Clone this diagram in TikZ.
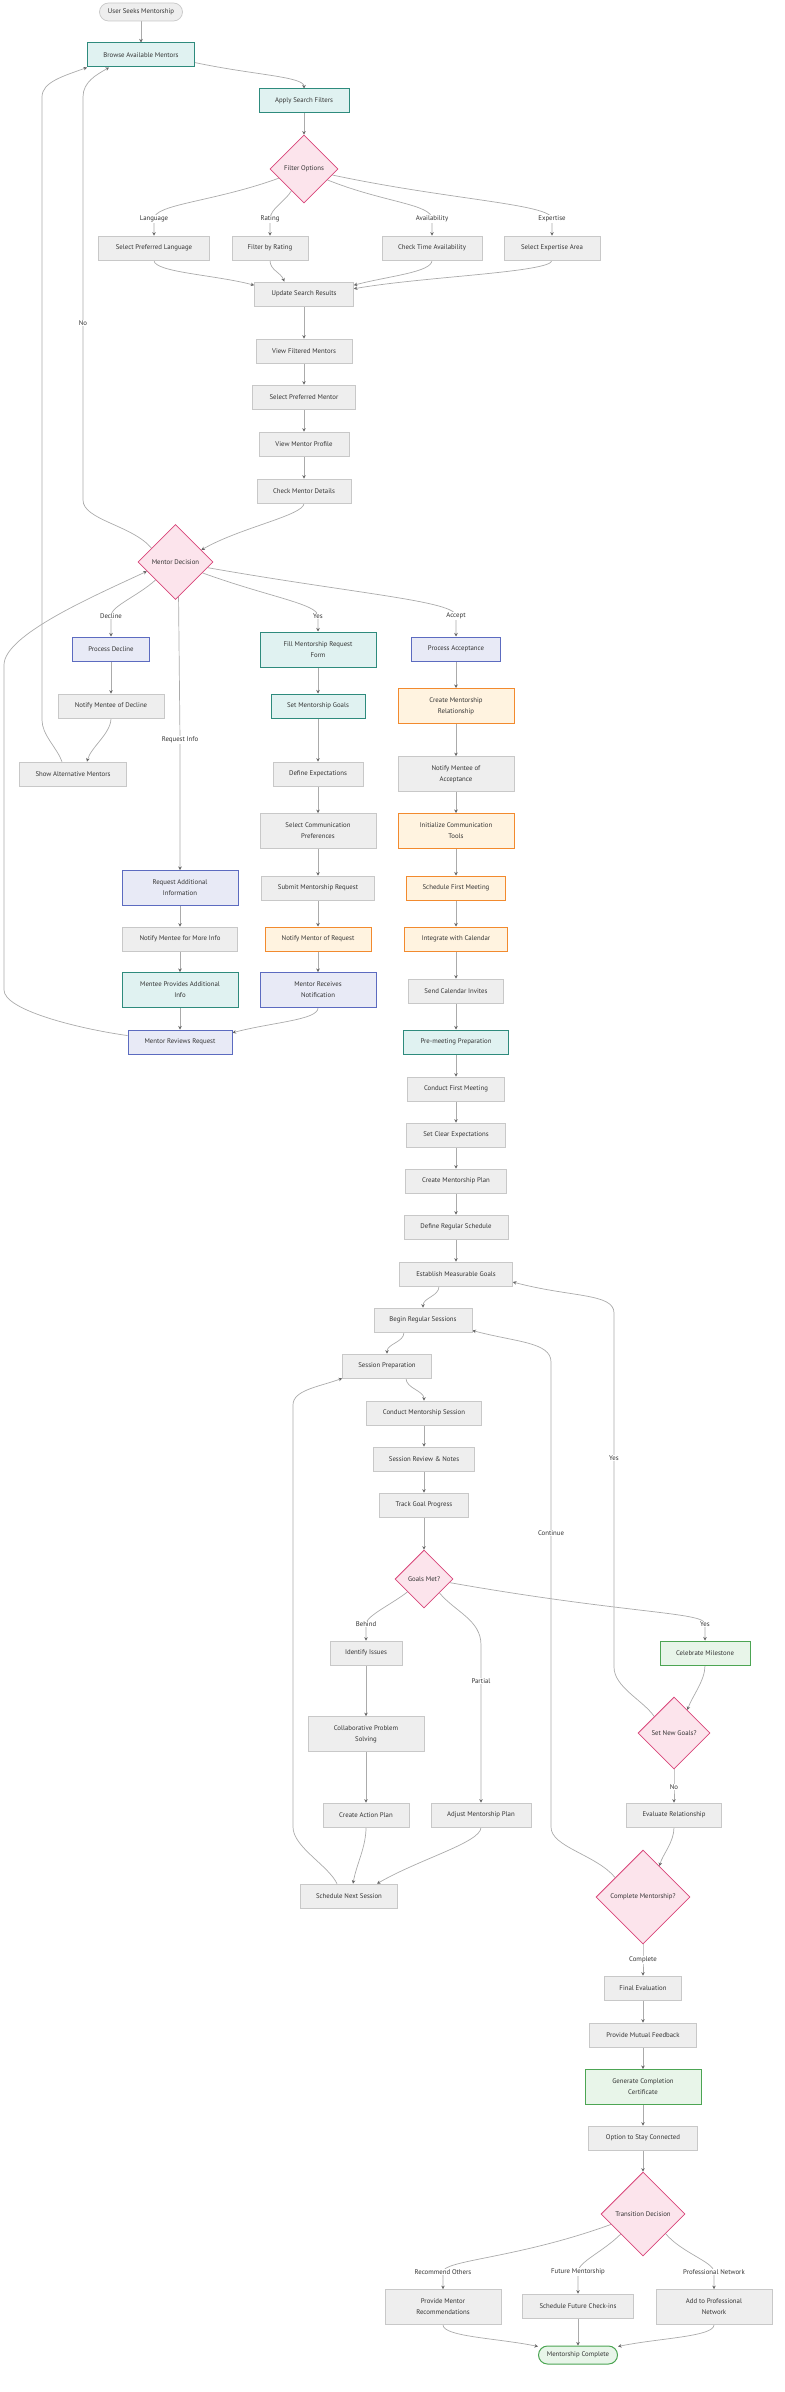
\documentclass[tikz,border=0pt]{standalone}
\usepackage{fontspec}
\setmainfont{PT Sans}
\usetikzlibrary{shapes.geometric,arrows.meta,backgrounds}
\definecolor{boxgray}{HTML}{EEEEEE}
\definecolor{linegray}{HTML}{C8C8C8}
\definecolor{edgegray}{HTML}{ABABAB}
\definecolor{tipgray}{HTML}{666666}
\definecolor{textgray}{HTML}{333333}
\definecolor{mintfill}{HTML}{E0F2F1}
\definecolor{mintline}{HTML}{2E8B7D}
\definecolor{lavfill}{HTML}{E8EAF6}
\definecolor{lavline}{HTML}{5C6BC0}
\definecolor{peachfill}{HTML}{FFF3E0}
\definecolor{peachline}{HTML}{F28A2E}
\definecolor{leaffill}{HTML}{E8F5E9}
\definecolor{leafline}{HTML}{4CA553}
\definecolor{rosefill}{HTML}{FCE4EC}
\definecolor{roseline}{HTML}{D9467A}
\tikzset{
    box/.style={rectangle, draw=linegray, fill=boxgray, line width=0.7pt, minimum height=24, inner sep=2pt, text=textgray},
    tall/.style={minimum height=35, minimum width=116, align=center},
    mint/.style={draw=mintline, fill=mintfill, line width=1pt},
    lav/.style={draw=lavline, fill=lavfill, line width=1pt},
    peach/.style={draw=peachline, fill=peachfill, line width=1pt},
    leaf/.style={draw=leafline, fill=leaffill, line width=1pt},
    choice/.style={diamond, aspect=1, draw=roseline, fill=rosefill, line width=0.8pt, inner sep=0pt, text=textgray},
    pill/.style={rectangle, rounded corners=9pt, minimum height=18, inner sep=2pt, draw=linegray, fill=boxgray, line width=0.7pt, text=textgray},
    lbl/.style={fill=white, inner sep=1pt, text=textgray},
    flow/.style={draw=edgegray, line width=0.7pt, -{Stealth[length=3.5pt,width=3.5pt,color=tipgray]}},
}

\begin{document}
\begin{tikzpicture}[x=1pt, y=1pt, font=\fontsize{6.8}{11}\selectfont]
        \useasboundingbox (0,0) rectangle (784,-2392);
        % Search
        \node[pill, minimum width=83] (start) at (141,-12) {User Seeks Mentorship};
        \node[box, mint, minimum width=107] (browse) at (141,-55) {Browse Available Mentors};
        \node[box, mint, minimum width=90] (apply) at (304,-101) {Apply Search Filters};
        \node[choice, minimum size=68] (filter) at (304,-169) {Filter Options};
        \node[box, minimum width=111] (lang) at (154,-248) {Select Preferred Language};
        \node[box, minimum width=76] (rating) at (270,-248) {Filter by Rating};
        \node[box, minimum width=100] (avail) at (432,-248) {Check Time Availability};
        \node[box, minimum width=96] (expert) at (552,-248) {Select Expertise Area};
        \node[box, minimum width=99] (update) at (304,-294) {Update Search Results};
        \node[box, minimum width=96] (viewf) at (304,-351) {View Filtered Mentors};
        \node[box, minimum width=103] (selm) at (304,-397) {Select Preferred Mentor};
        \node[box, minimum width=90] (profile) at (304,-444) {View Mentor Profile};
        \node[box, minimum width=94] (details) at (304,-491) {Check Mentor Details};
        \node[choice, minimum size=75] (decision) at (175.5,-562) {Mentor Decision};
        % Decline and request info
        \node[box, lav, minimum width=77] (procDecl) at (111,-649) {Process Decline};
        \node[box, minimum width=106] (notifyDecl) at (111,-706) {Notify Mentee of Decline};
        \node[box, minimum width=107] (showAlt) at (73,-774) {Show Alternative Mentors};
        \node[box, lav, tall] (reqAdd) at (180,-888) {Request Additional\\Information};
        \node[box, minimum width=115] (notifyMore) at (180,-939) {Notify Mentee for More Info};
        \node[box, mint, tall] (menteeProv) at (180,-990) {Mentee Provides Additional\\Info};
        \node[box, lav, minimum width=104] (mentorRev) at (180,-1042) {Mentor Reviews Request};
        % Request form
        \node[box, mint, tall] (fillForm) at (318,-649.5) {Fill Mentorship Request\\Form};
        \node[box, mint, minimum width=94] (setGoals) at (318,-706) {Set Mentorship Goals};
        \node[box, minimum width=90] (defExp) at (318,-774) {Define Expectations};
        \node[box, tall] (selComm) at (318,-831) {Select Communication\\Preferences};
        \node[box, minimum width=113] (submit) at (318,-888) {Submit Mentorship Request};
        \node[box, peach, minimum width=106] (notifyMentor) at (318,-939) {Notify Mentor of Request};
        \node[box, lav, tall] (mentorRec) at (318,-990) {Mentor Receives\\Notification};
        % Acceptance
        \node[box, lav, minimum width=89] (procAcc) at (456,-649) {Process Acceptance};
        \node[box, peach, tall] (createRel) at (456,-706) {Create Mentorship\\Relationship};
        \node[box, tall] (notifyAcc) at (456,-774) {Notify Mentee of\\Acceptance};
        \node[box, peach, tall] (initComm) at (456,-831) {Initialize Communication\\Tools};
        \node[box, peach, minimum width=99] (schedFirst) at (456,-888) {Schedule First Meeting};
        \node[box, peach, minimum width=103] (integrate) at (456,-939) {Integrate with Calendar};
        \node[box, minimum width=95] (sendInv) at (456,-991) {Send Calendar Invites};
        \node[box, mint, minimum width=105] (premeet) at (456,-1042) {Pre-meeting Preparation};
        \node[box, minimum width=97] (conductFirst) at (456,-1089) {Conduct First Meeting};
        \node[box, minimum width=99] (setClear) at (456,-1135) {Set Clear Expectations};
        \node[box, minimum width=101] (createPlan) at (456,-1181) {Create Mentorship Plan};
        \node[box, minimum width=104] (defSched) at (456,-1227) {Define Regular Schedule};
        \node[box, minimum width=113] (establish) at (456,-1274) {Establish Measurable Goals};
        % Sessions
        \node[box, minimum width=98] (beginReg) at (423,-1320) {Begin Regular Sessions};
        \node[box, minimum width=89] (sessPrep) at (387,-1366) {Session Preparation};
        \node[box, minimum width=115] (conductSess) at (424,-1413) {Conduct Mentorship Session};
        \node[box, minimum width=101] (review) at (424,-1459) {Session Review \& Notes};
        \node[box, minimum width=89] (track) at (424,-1505) {Track Goal Progress};
        \node[choice, minimum size=58] (goalsMet) at (424,-1579) {Goals Met?};
        \node[box, minimum width=72] (identify) at (366,-1653) {Identify Issues};
        \node[box, tall] (collab) at (366,-1734) {Collaborative Problem\\Solving};
        \node[box, minimum width=86] (createAct) at (366,-1815) {Create Action Plan};
        \node[box, minimum width=100] (adjust) at (481,-1815) {Adjust Mentorship Plan};
        \node[box, minimum width=97] (schedNext) at (349,-1896) {Schedule Next Session};
        \node[box, leaf, minimum width=90] (celebrate) at (705,-1653) {Celebrate Milestone};
        \node[choice, minimum size=72] (setNew) at (674,-1733) {Set New Goals?};
        \node[box, minimum width=95] (evaluate) at (674,-1815) {Evaluate Relationship};
        \node[choice, minimum size=94] (complete) at (643,-1897) {Complete Mentorship?};
        % Completion
        \node[box, minimum width=77] (final) at (643,-1988) {Final Evaluation};
        \node[box, minimum width=107] (feedback) at (643,-2035) {Provide Mutual Feedback};
        \node[box, leaf, tall] (certificate) at (643,-2087) {Generate Completion\\Certificate};
        \node[box, minimum width=109] (stayConn) at (643,-2138) {Option to Stay Connected};
        \node[choice, minimum size=84] (transition) at (643,-2214) {Transition Decision};
        \node[box, tall] (recMentor) at (443,-2307) {Provide Mentor\\Recommendations};
        \node[box, minimum width=111] (future) at (578,-2306) {Schedule Future Check-ins};
        \node[box, tall] (profNet) at (714,-2307) {Add to Professional\\Network};
        \node[pill, leaf, minimum width=79] (done) at (578,-2355) {Mentorship Complete};
        % Add labels
        \node[lbl] (lbLang) at (154,-219) {Language};
        \node[lbl] (lbRating) at (270,-219) {Rating};
        \node[lbl] (lbAvail) at (432,-219) {Availability};
        \node[lbl] (lbExpert) at (552,-219) {Expertise};
        \node[lbl] (lbNo) at (83,-323) {No};
        \node[lbl] (lbDecline) at (111,-616) {Decline};
        \node[lbl] (lbYes) at (318,-616) {Yes};
        \node[lbl] (lbAccept) at (456,-616) {Accept};
        \node[lbl] (lbReqInfo) at (180,-740) {Request Info};
        \node[lbl] (lbYesGoals) at (614,-1458) {Yes};
        \node[lbl] (lbContinue) at (551,-1533) {Continue};
        \node[lbl] (lbBehind) at (366,-1624) {Behind};
        \node[lbl] (lbPartial) at (481,-1681) {Partial};
        \node[lbl] (lbYesMet) at (705,-1624) {Yes};
        \node[lbl] (lbNoGoals) at (674,-1787) {No};
        \node[lbl] (lbComplete) at (643,-1960) {Complete};
        \node[lbl] (lbRecommend) at (443,-2272) {Recommend Others};
        \node[lbl] (lbFuture) at (578,-2272) {Future Mentorship};
        \node[lbl] (lbProf) at (714,-2272) {Professional Network};
        % Bends of the long returns
        \coordinate (noLow) at (83,-500);
        \coordinate (noHigh) at (83,-97);
        \coordinate (altLow) at (42,-720);
        \coordinate (altHigh) at (42,-97);
        \coordinate (revLow) at (4,-990);
        \coordinate (revHigh) at (4,-665);
        \coordinate (partBend) at (481,-1645);
        \coordinate (spLow) at (293,-1827);
        \coordinate (spHigh) at (293,-1405);
        \coordinate (snLow) at (614,-1667);
        \coordinate (snHigh) at (614,-1313);
        \coordinate (contLow) at (551,-1827);
        \coordinate (contHigh) at (551,-1362);
        % Add edges
        \begin{scope}[on background layer]
            \draw[flow] (start.south) -- (browse.north);
            \draw[flow] (browse.-8) .. controls +(-12:60) and +(90:12) .. (apply.north);
            \draw[flow] (apply.south) -- (filter.north);
            \draw[flow] (filter.200) .. controls +(200:70) and +(90:15) .. (lbLang.center) -- (lang.north);
            \draw[flow] (filter.240) .. controls +(240:12) and +(90:10) .. (lbRating.center) -- (rating.north);
            \draw[flow] (filter.-25) .. controls +(-22:60) and +(90:15) .. (lbAvail.center) -- (avail.north);
            \draw[flow] (filter.-12) .. controls +(-12:120) and +(90:15) .. (lbExpert.center) -- (expert.north);
            \draw[flow] (lang.south) .. controls +(-90:12) and +(165:40) .. (update.170);
            \draw[flow] (rating.south) .. controls +(-90:10) and +(110:10) .. (update.148);
            \draw[flow] (avail.south) .. controls +(-90:12) and +(15:35) .. (update.10);
            \draw[flow] (expert.south) .. controls +(-90:12) and +(10:70) .. (update.6);
            \draw[flow] (update.south) -- (viewf.north);
            \draw[flow] (viewf.south) -- (selm.north);
            \draw[flow] (selm.south) -- (profile.north);
            \draw[flow] (profile.south) -- (details.north);
            \draw[flow] (details.south) .. controls +(-90:12) and +(30:45) .. (decision.25);
            \draw[flow] (decision.150) .. controls +(130:30) and +(-90:20) .. (noLow) -- (lbNo.center) -- (noHigh) .. controls +(90:15) and +(-150:15) .. ([xshift=-32pt]browse.south);
            \draw[flow] (decision.222) .. controls +(222:25) and +(90:10) .. (lbDecline.center) -- (procDecl.north);
            \draw[flow] (decision.-22) .. controls +(-20:70) and +(90:12) .. (lbYes.center) -- (fillForm.north);
            \draw[flow] (decision.-10) .. controls +(-10:150) and +(90:15) .. (lbAccept.center) -- (procAcc.north);
            \draw[flow] (decision.-85) -- (lbReqInfo.center) -- (reqAdd.north);
            \draw[flow] (procDecl.south) -- (notifyDecl.north);
            \draw[flow] (notifyDecl.south) .. controls +(-90:15) and +(75:15) .. ([xshift=14pt]showAlt.north);
            \draw[flow] ([xshift=-11pt]showAlt.north) .. controls +(110:15) and +(-90:15) .. (altLow) -- (altHigh) .. controls +(90:15) and +(-160:25) .. (browse.south west);
            \draw[flow] (reqAdd.south) -- (notifyMore.north);
            \draw[flow] (notifyMore.south) -- (menteeProv.north);
            \draw[flow] (menteeProv.south) -- (mentorRev.north);
            \draw[flow] (mentorRev.173) .. controls +(172:50) and +(-90:20) .. (revLow) -- (revHigh) .. controls +(90:30) and +(-155:60) .. (decision.198);
            \draw[flow] (fillForm.south) -- (setGoals.north);
            \draw[flow] (setGoals.south) -- (defExp.north);
            \draw[flow] (defExp.south) -- (selComm.north);
            \draw[flow] (selComm.south) -- (submit.north);
            \draw[flow] (submit.south) -- (notifyMentor.north);
            \draw[flow] (notifyMentor.south) -- (mentorRec.north);
            \draw[flow] (mentorRec.south) .. controls +(-90:12) and +(15:40) .. (mentorRev.10);
            \draw[flow] (procAcc.south) -- (createRel.north);
            \draw[flow] (createRel.south) -- (notifyAcc.north);
            \draw[flow] (notifyAcc.south) -- (initComm.north);
            \draw[flow] (initComm.south) -- (schedFirst.north);
            \draw[flow] (schedFirst.south) -- (integrate.north);
            \draw[flow] (integrate.south) -- (sendInv.north);
            \draw[flow] (sendInv.south) -- (premeet.north);
            \draw[flow] (premeet.south) -- (conductFirst.north);
            \draw[flow] (conductFirst.south) -- (setClear.north);
            \draw[flow] (setClear.south) -- (createPlan.north);
            \draw[flow] (createPlan.south) -- (defSched.north);
            \draw[flow] (defSched.south) -- (establish.north);
            \draw[flow] ([xshift=-17pt]establish.south) .. controls +(-90:10) and +(90:10) .. (beginReg.north);
            \draw[flow] ([xshift=-19pt]beginReg.south) .. controls +(-90:10) and +(90:10) .. (sessPrep.north);
            \draw[flow] ([xshift=19pt]sessPrep.south) .. controls +(-90:10) and +(90:10) .. (conductSess.north);
            \draw[flow] (conductSess.south) -- (review.north);
            \draw[flow] (review.south) -- (track.north);
            \draw[flow] (track.south) -- (goalsMet.north);
            \draw[flow] (goalsMet.218) .. controls +(218:20) and +(90:8) .. (lbBehind.center) -- (identify.north);
            \draw[flow] (goalsMet.-42) .. controls +(-50:25) and +(90:25) .. (partBend) -- (lbPartial.center) -- (adjust.north);
            \draw[flow] (goalsMet.-8) .. controls +(-10:180) and +(90:12) .. (lbYesMet.center) -- (celebrate.north);
            \draw[flow] (identify.south) -- (collab.north);
            \draw[flow] (collab.south) -- (createAct.north);
            \draw[flow] (createAct.south) .. controls +(-90:20) and +(80:20) .. ([xshift=4pt]schedNext.north);
            \draw[flow] (adjust.south) .. controls +(-90:15) and +(30:50) .. ([xshift=28pt]schedNext.north);
            \draw[flow] ([xshift=-12pt]schedNext.north) .. controls +(115:20) and +(-90:20) .. (spLow) -- (spHigh) .. controls +(90:15) and +(-160:25) .. (sessPrep.south west);
            \draw[flow] (celebrate.south) .. controls +(-90:15) and +(70:15) .. (setNew.60);
            \draw[flow] (setNew.140) .. controls +(125:20) and +(-90:20) .. (snLow) -- (lbYesGoals.center) -- (snHigh) .. controls +(90:20) and +(-15:60) .. (establish.-8);
            \draw[flow] (setNew.south) -- (lbNoGoals.center) -- (evaluate.north);
            \draw[flow] (evaluate.south) .. controls +(-90:15) and +(75:12) .. (complete.62);
            \draw[flow] (complete.145) .. controls +(130:30) and +(-90:20) .. (contLow) -- (lbContinue.center) -- (contHigh) .. controls +(90:20) and +(-15:45) .. (beginReg.-12);
            \draw[flow] (complete.south) -- (lbComplete.center) -- (final.north);
            \draw[flow] (final.south) -- (feedback.north);
            \draw[flow] (feedback.south) -- (certificate.north);
            \draw[flow] (certificate.south) -- (stayConn.north);
            \draw[flow] (stayConn.south) -- (transition.north);
            \draw[flow] (transition.198) .. controls +(200:100) and +(90:12) .. (lbRecommend.center) -- (recMentor.north);
            \draw[flow] (transition.222) .. controls +(225:25) and +(90:10) .. (lbFuture.center) -- (future.north);
            \draw[flow] (transition.-41) .. controls +(-50:25) and +(90:10) .. (lbProf.center) -- (profNet.north);
            \draw[flow] (recMentor.south) .. controls +(-90:12) and +(168:40) .. (done.168);
            \draw[flow] (future.south) -- (done.north);
            \draw[flow] (profNet.south) .. controls +(-90:12) and +(12:40) .. (done.12);
        \end{scope}
\end{tikzpicture}
\end{document}
